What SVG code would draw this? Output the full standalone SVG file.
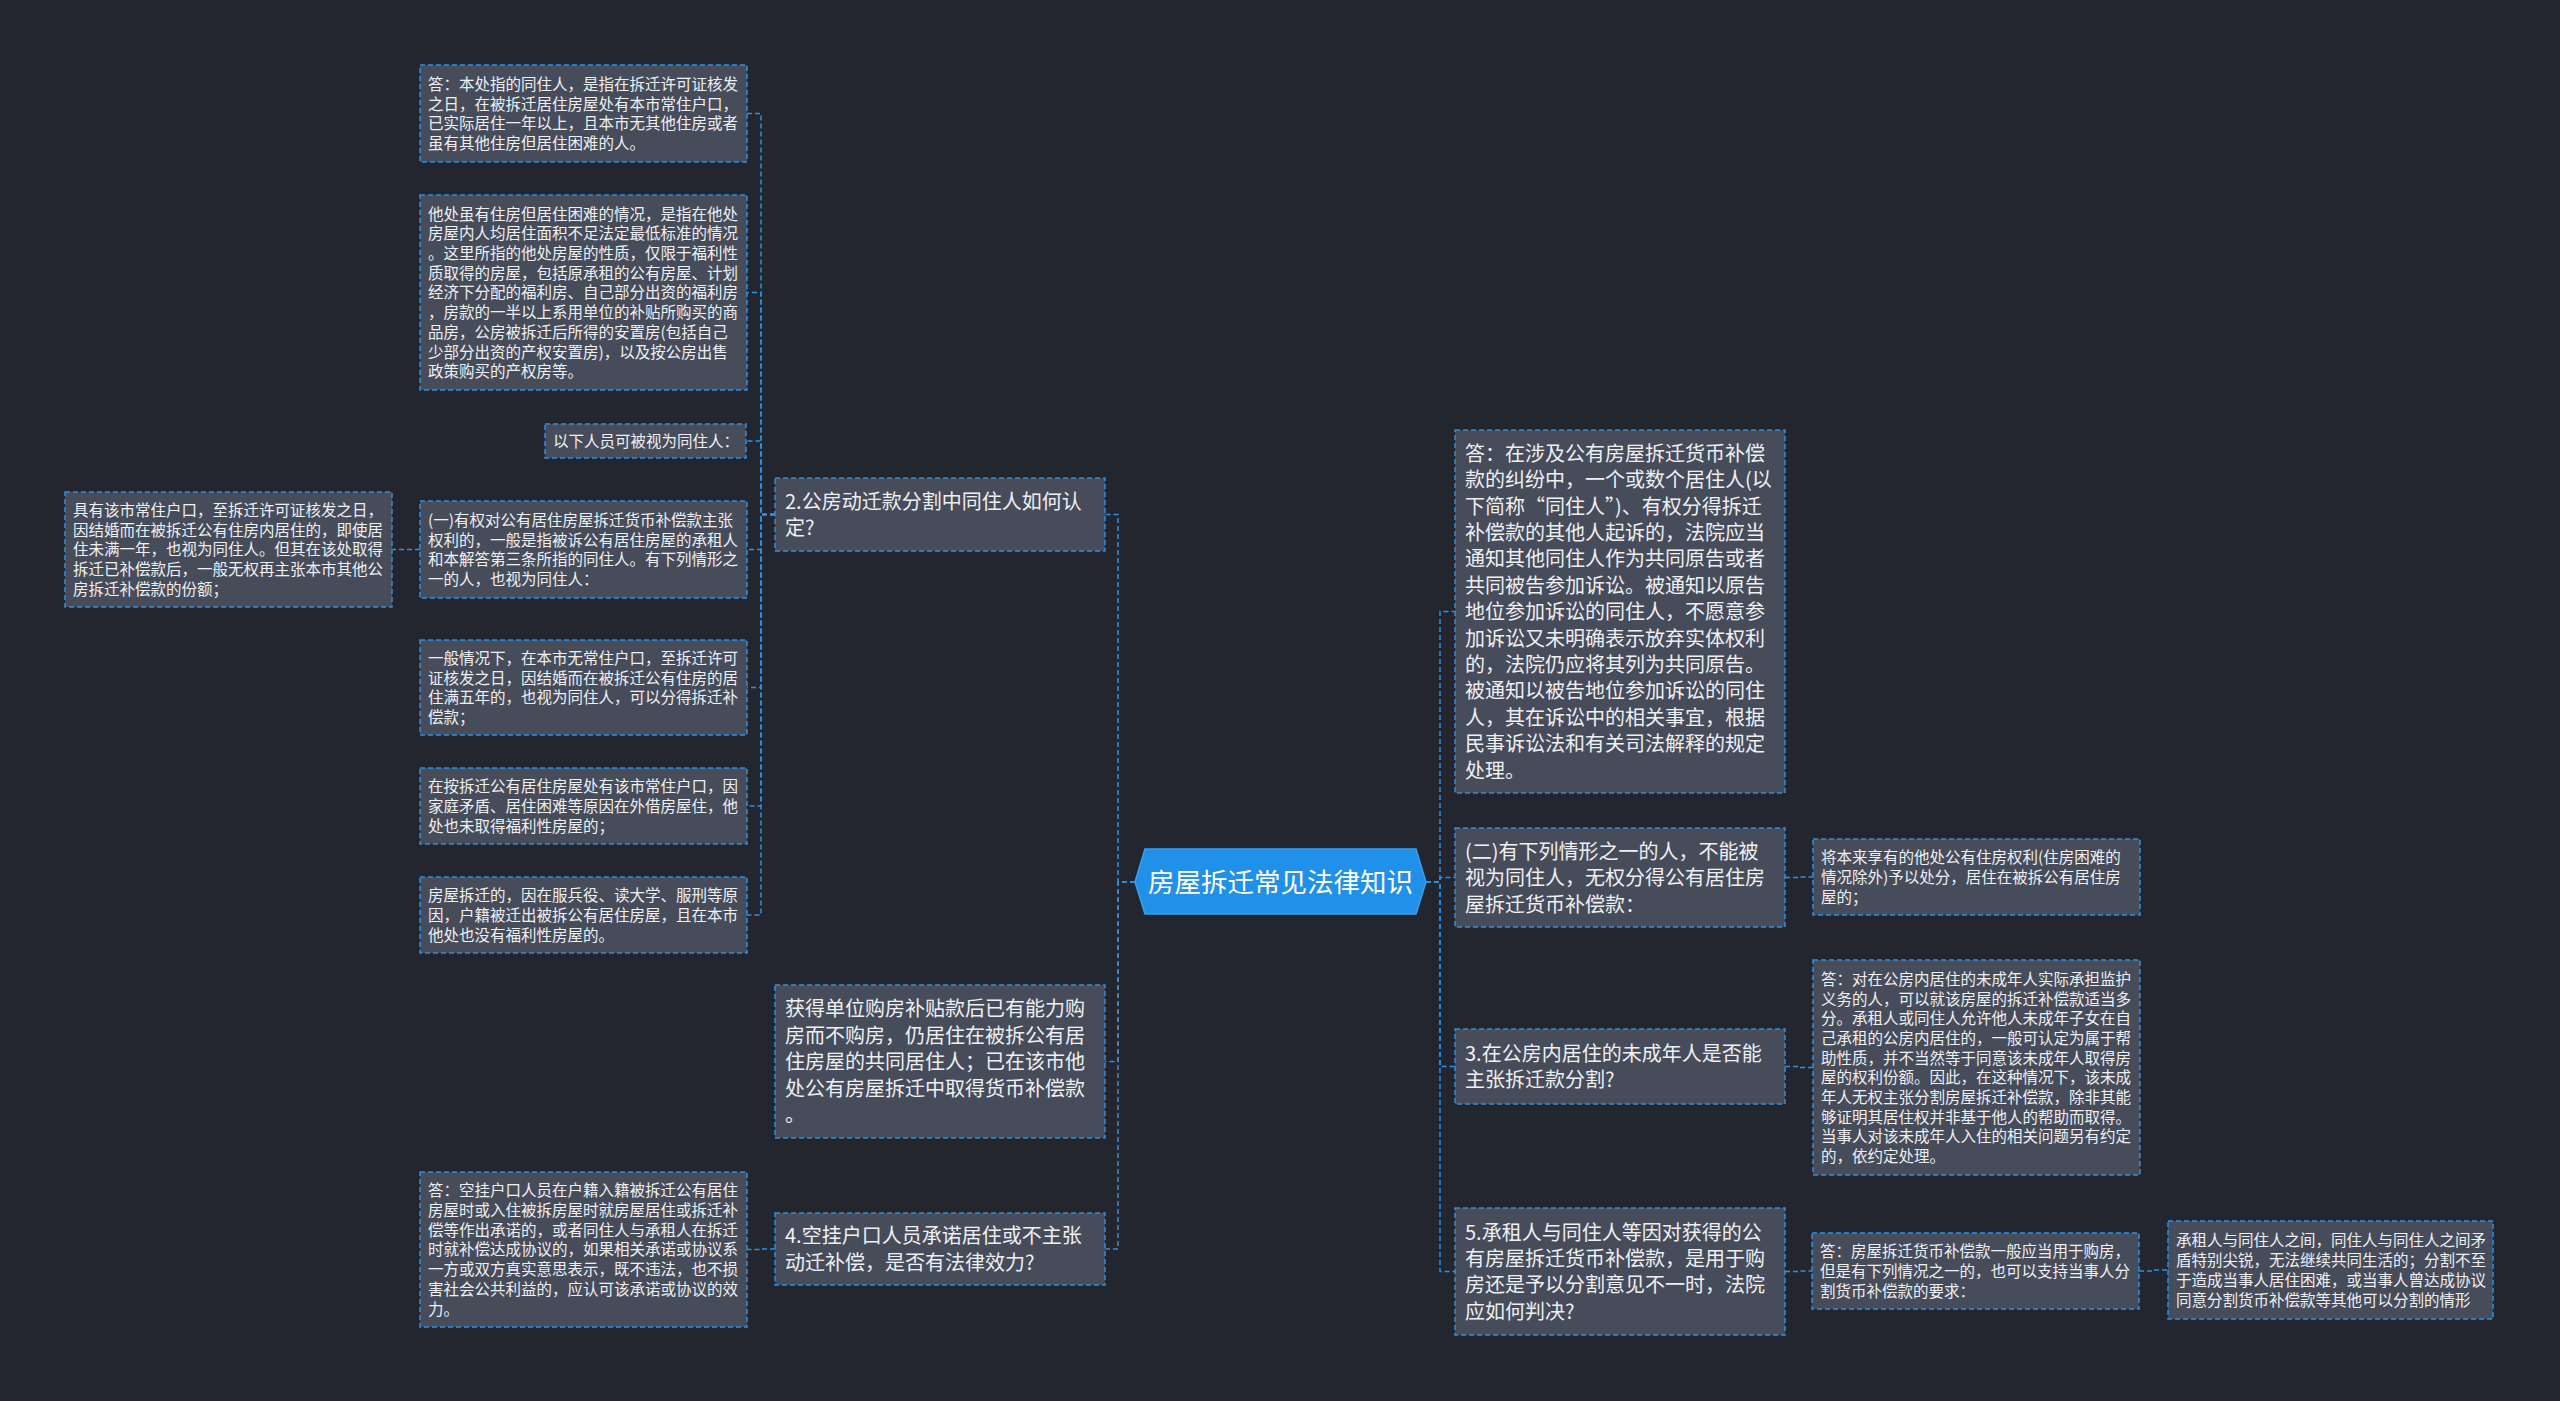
<svg xmlns="http://www.w3.org/2000/svg" width="2560" height="1401" viewBox="0 0 2560 1401">
<style>
.bg{fill:#23262e}
.box{fill:#474c5a;stroke:#2f8fe0;stroke-width:1.5;stroke-dasharray:5 3}
.s{font-family:"Noto Sans CJK SC","Noto Sans",sans-serif;font-size:15.5px;fill:#eef0f4}
.l{font-family:"Noto Sans CJK SC","Noto Sans",sans-serif;font-size:20px;fill:#eef0f4}
.c{font-family:"Noto Sans CJK SC","Noto Sans",sans-serif;font-size:26.5px;fill:#ffffff;text-anchor:middle}
.ln{fill:none;stroke:#2f8fe0;stroke-width:1.5;stroke-dasharray:5 3}
</style>
<rect class="bg" x="0" y="0" width="2560" height="1401"/>
<g id="connectors">
<path class="ln" d="M1135,882 H1118 V514.5 H1105"/>
<path class="ln" d="M1135,882 H1118 V1061.5 H1105"/>
<path class="ln" d="M1135,882 H1118 V1249 H1105"/>
<path class="ln" d="M775,514.5 H761 V113.5 H747"/>
<path class="ln" d="M775,514.5 H761 V292.5 H747"/>
<path class="ln" d="M775,514.5 H761 V441 H746"/>
<path class="ln" d="M775,514.5 H761 V549.5 H747"/>
<path class="ln" d="M775,514.5 H761 V687.5 H747"/>
<path class="ln" d="M775,514.5 H761 V806 H747"/>
<path class="ln" d="M775,514.5 H761 V915 H747"/>
<path class="ln" d="M420,549.5 H392"/>
<path class="ln" d="M775,1249 H761 V1249.5 H747"/>
<path class="ln" d="M1426,882 H1440 V611.5 H1455"/>
<path class="ln" d="M1426,882 H1440 V877.5 H1455"/>
<path class="ln" d="M1426,882 H1440 V1066.5 H1455"/>
<path class="ln" d="M1426,882 H1440 V1271.5 H1455"/>
<path class="ln" d="M1785,877.5 H1799 V877 H1813"/>
<path class="ln" d="M1785,1066.5 H1799 V1067.5 H1813"/>
<path class="ln" d="M1785,1271.5 H1798 V1271 H1812"/>
<path class="ln" d="M2139,1271 H2153 V1270 H2168"/>
</g>
<g id="center">
<polygon points="1135,882 1145,849 1416,849 1426,882 1416,914 1145,914" fill="#2190e8" stroke="#3a9ff0" stroke-width="1.5"/>
<text class="c" x="1280.5" y="892">房屋拆迁常见法律知识</text>
</g>
<g id="q2">
<rect class="box" x="775" y="478" width="330" height="73"/>
<text class="l"><tspan x="785" y="508.9">2.公房动迁款分割中同住人如何认</tspan><tspan x="785" y="535.3">定?</tspan></text>
</g>
<g id="nA">
<rect class="box" x="420" y="65" width="327" height="97"/>
<text class="s"><tspan x="428" y="89.9">答：本处指的同住人，是指在拆迁许可证核发</tspan><tspan x="428" y="109.6">之日，在被拆迁居住房屋处有本市常住户口，</tspan><tspan x="428" y="129.3">已实际居住一年以上，且本市无其他住房或者</tspan><tspan x="428" y="149">虽有其他住房但居住困难的人。</tspan></text>
</g>
<g id="nB">
<rect class="box" x="420" y="195" width="327" height="195"/>
<text class="s"><tspan x="428" y="219.6">他处虽有住房但居住困难的情况，是指在他处</tspan><tspan x="428" y="239.3">房屋内人均居住面积不足法定最低标准的情况</tspan><tspan x="428" y="259">。这里所指的他处房屋的性质，仅限于福利性</tspan><tspan x="428" y="278.7">质取得的房屋，包括原承租的公有房屋、计划</tspan><tspan x="428" y="298.4">经济下分配的福利房、自己部分出资的福利房</tspan><tspan x="428" y="318.1">，房款的一半以上系用单位的补贴所购买的商</tspan><tspan x="428" y="337.8">品房，公房被拆迁后所得的安置房(包括自己</tspan><tspan x="428" y="357.5">少部分出资的产权安置房)，以及按公房出售</tspan><tspan x="428" y="377.2">政策购买的产权房等。</tspan></text>
</g>
<g id="nC">
<rect class="box" x="545" y="424" width="201" height="34"/>
<text class="s" x="553" y="446.9">以下人员可被视为同住人：</text>
</g>
<g id="nD">
<rect class="box" x="65" y="492" width="327" height="115"/>
<text class="s"><tspan x="73" y="516">具有该市常住户口，至拆迁许可证核发之日，</tspan><tspan x="73" y="535.7">因结婚而在被拆迁公有住房内居住的，即使居</tspan><tspan x="73" y="555.4">住未满一年，也视为同住人。但其在该处取得</tspan><tspan x="73" y="575.1">拆迁已补偿款后，一般无权再主张本市其他公</tspan><tspan x="73" y="594.8">房拆迁补偿款的份额；</tspan></text>
</g>
<g id="nE">
<rect class="box" x="420" y="501" width="327" height="97"/>
<text class="s"><tspan x="428" y="525.9">(一)有权对公有居住房屋拆迁货币补偿款主张</tspan><tspan x="428" y="545.6">权利的，一般是指被诉公有居住房屋的承租人</tspan><tspan x="428" y="565.3">和本解答第三条所指的同住人。有下列情形之</tspan><tspan x="428" y="585">一的人，也视为同住人：</tspan></text>
</g>
<g id="nF">
<rect class="box" x="420" y="640" width="327" height="95"/>
<text class="s"><tspan x="428" y="663.9">一般情况下，在本市无常住户口，至拆迁许可</tspan><tspan x="428" y="683.6">证核发之日，因结婚而在被拆迁公有住房的居</tspan><tspan x="428" y="703.3">住满五年的，也视为同住人，可以分得拆迁补</tspan><tspan x="428" y="723">偿款；</tspan></text>
</g>
<g id="nG">
<rect class="box" x="420" y="768" width="327" height="76"/>
<text class="s"><tspan x="428" y="792.2">在按拆迁公有居住房屋处有该市常住户口，因</tspan><tspan x="428" y="811.9">家庭矛盾、居住困难等原因在外借房屋住，他</tspan><tspan x="428" y="831.6">处也未取得福利性房屋的；</tspan></text>
</g>
<g id="nH">
<rect class="box" x="420" y="877" width="327" height="76"/>
<text class="s"><tspan x="428" y="901.2">房屋拆迁的，因在服兵役、读大学、服刑等原</tspan><tspan x="428" y="920.9">因，户籍被迁出被拆公有居住房屋，且在本市</tspan><tspan x="428" y="940.6">他处也没有福利性房屋的。</tspan></text>
</g>
<g id="nJ">
<rect class="box" x="775" y="985" width="330" height="153"/>
<text class="l"><tspan x="785" y="1016.3">获得单位购房补贴款后已有能力购</tspan><tspan x="785" y="1042.7">房而不购房，仍居住在被拆公有居</tspan><tspan x="785" y="1069.1">住房屋的共同居住人；已在该市他</tspan><tspan x="785" y="1095.5">处公有房屋拆迁中取得货币补偿款</tspan><tspan x="785" y="1121.9">。</tspan></text>
</g>
<g id="q4">
<rect class="box" x="775" y="1213" width="330" height="72"/>
<text class="l"><tspan x="785" y="1243.4">4.空挂户口人员承诺居住或不主张</tspan><tspan x="785" y="1269.8">动迁补偿，是否有法律效力?</tspan></text>
</g>
<g id="nI">
<rect class="box" x="420" y="1172" width="327" height="155"/>
<text class="s"><tspan x="428" y="1196.3">答：空挂户口人员在户籍入籍被拆迁公有居住</tspan><tspan x="428" y="1216">房屋时或入住被拆房屋时就房屋居住或拆迁补</tspan><tspan x="428" y="1235.7">偿等作出承诺的，或者同住人与承租人在拆迁</tspan><tspan x="428" y="1255.4">时就补偿达成协议的，如果相关承诺或协议系</tspan><tspan x="428" y="1275.1">一方或双方真实意思表示，既不违法，也不损</tspan><tspan x="428" y="1294.8">害社会公共利益的，应认可该承诺或协议的效</tspan><tspan x="428" y="1314.5">力。</tspan></text>
</g>
<g id="r1">
<rect class="box" x="1455" y="430" width="330" height="363"/>
<text class="l"><tspan x="1465" y="460.7">答：在涉及公有房屋拆迁货币补偿</tspan><tspan x="1465" y="487.1">款的纠纷中，一个或数个居住人(以</tspan><tspan x="1465" y="513.5">下简称“同住人”)、有权分得拆迁</tspan><tspan x="1465" y="539.9">补偿款的其他人起诉的，法院应当</tspan><tspan x="1465" y="566.3">通知其他同住人作为共同原告或者</tspan><tspan x="1465" y="592.7">共同被告参加诉讼。被通知以原告</tspan><tspan x="1465" y="619.1">地位参加诉讼的同住人，不愿意参</tspan><tspan x="1465" y="645.5">加诉讼又未明确表示放弃实体权利</tspan><tspan x="1465" y="671.9">的，法院仍应将其列为共同原告。</tspan><tspan x="1465" y="698.3">被通知以被告地位参加诉讼的同住</tspan><tspan x="1465" y="724.7">人，其在诉讼中的相关事宜，根据</tspan><tspan x="1465" y="751.1">民事诉讼法和有关司法解释的规定</tspan><tspan x="1465" y="777.5">处理。</tspan></text>
</g>
<g id="r2">
<rect class="box" x="1455" y="828" width="330" height="99"/>
<text class="l"><tspan x="1465" y="858.7">(二)有下列情形之一的人，不能被</tspan><tspan x="1465" y="885.1">视为同住人，无权分得公有居住房</tspan><tspan x="1465" y="911.5">屋拆迁货币补偿款：</tspan></text>
</g>
<g id="r2a">
<rect class="box" x="1813" y="839" width="327" height="76"/>
<text class="s"><tspan x="1821" y="863.2">将本来享有的他处公有住房权利(住房困难的</tspan><tspan x="1821" y="882.9">情况除外)予以处分，居住在被拆公有居住房</tspan><tspan x="1821" y="902.6">屋的；</tspan></text>
</g>
<g id="r3">
<rect class="box" x="1455" y="1029" width="330" height="75"/>
<text class="l"><tspan x="1465" y="1060.9">3.在公房内居住的未成年人是否能</tspan><tspan x="1465" y="1087.3">主张拆迁款分割?</tspan></text>
</g>
<g id="r3a">
<rect class="box" x="1813" y="960" width="327" height="215"/>
<text class="s"><tspan x="1821" y="984.8">答：对在公房内居住的未成年人实际承担监护</tspan><tspan x="1821" y="1004.5">义务的人，可以就该房屋的拆迁补偿款适当多</tspan><tspan x="1821" y="1024.2">分。承租人或同住人允许他人未成年子女在自</tspan><tspan x="1821" y="1043.9">己承租的公房内居住的，一般可认定为属于帮</tspan><tspan x="1821" y="1063.6">助性质，并不当然等于同意该未成年人取得房</tspan><tspan x="1821" y="1083.3">屋的权利份额。因此，在这种情况下，该未成</tspan><tspan x="1821" y="1103">年人无权主张分割房屋拆迁补偿款，除非其能</tspan><tspan x="1821" y="1122.7">够证明其居住权并非基于他人的帮助而取得。</tspan><tspan x="1821" y="1142.4">当事人对该未成年人入住的相关问题另有约定</tspan><tspan x="1821" y="1162.1">的，依约定处理。</tspan></text>
</g>
<g id="r5">
<rect class="box" x="1455" y="1208" width="330" height="127"/>
<text class="l"><tspan x="1465" y="1239.5">5.承租人与同住人等因对获得的公</tspan><tspan x="1465" y="1265.9">有房屋拆迁货币补偿款，是用于购</tspan><tspan x="1465" y="1292.3">房还是予以分割意见不一时，法院</tspan><tspan x="1465" y="1318.7">应如何判决?</tspan></text>
</g>
<g id="r5a">
<rect class="box" x="1812" y="1233" width="327" height="76"/>
<text class="s"><tspan x="1820" y="1257.2">答：房屋拆迁货币补偿款一般应当用于购房，</tspan><tspan x="1820" y="1276.9">但是有下列情况之一的，也可以支持当事人分</tspan><tspan x="1820" y="1296.6">割货币补偿款的要求：</tspan></text>
</g>
<g id="r5b">
<rect class="box" x="2168" y="1221" width="325" height="98"/>
<text class="s"><tspan x="2176" y="1246.4">承租人与同住人之间，同住人与同住人之间矛</tspan><tspan x="2176" y="1266.1">盾特别尖锐，无法继续共同生活的；分割不至</tspan><tspan x="2176" y="1285.8">于造成当事人居住困难，或当事人曾达成协议</tspan><tspan x="2176" y="1305.5">同意分割货币补偿款等其他可以分割的情形</tspan></text>
</g>
</svg>
